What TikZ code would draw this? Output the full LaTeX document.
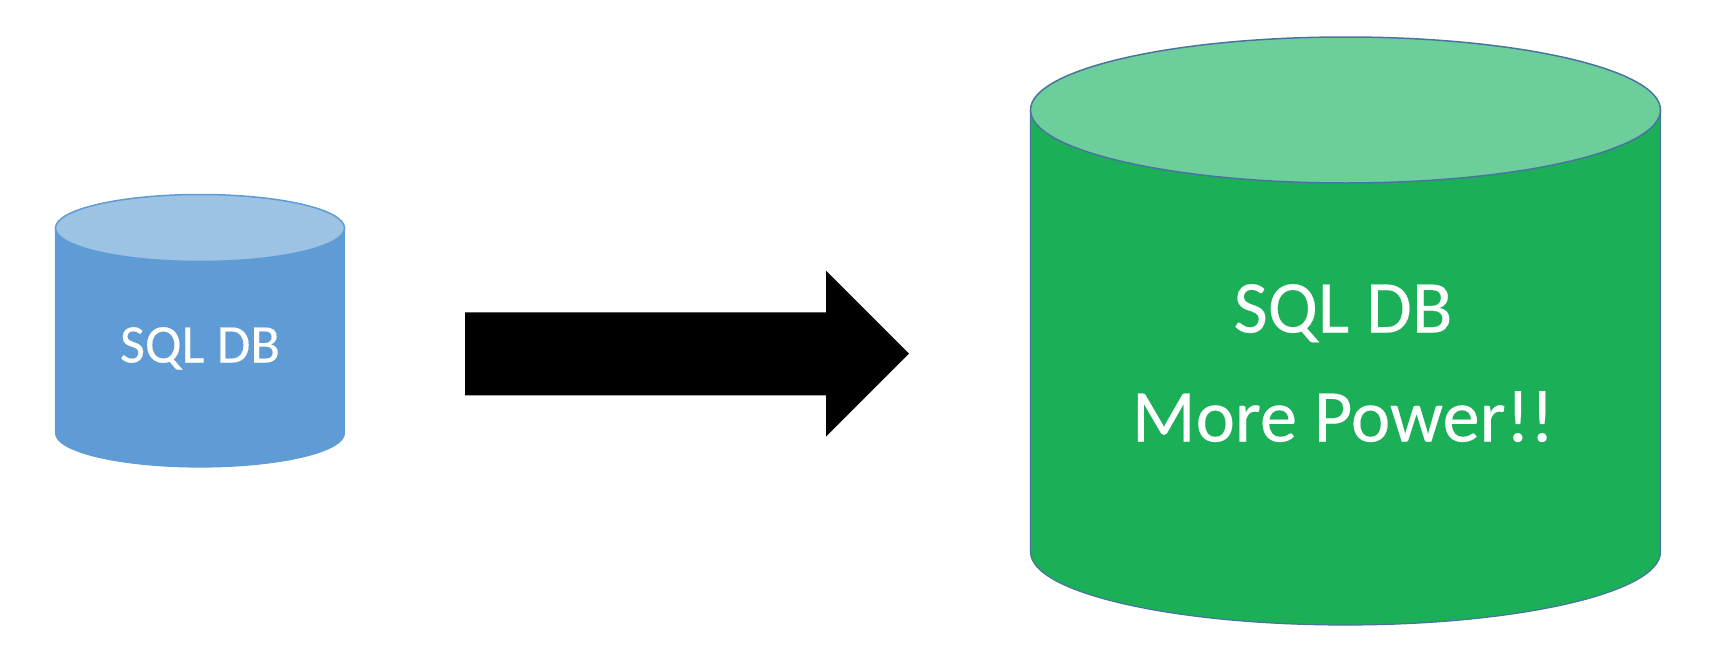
\documentclass[tikz,border=0pt]{standalone}
\usepackage{fontspec}
\setmainfont[FakeBold=0.25]{Carlito}
\definecolor{bluebody}{HTML}{5F9BD4}
\definecolor{bluetop}{HTML}{9DC3E4}
\definecolor{greenbody}{HTML}{1BAF57}
\definecolor{greentop}{HTML}{6CCF9B}
\definecolor{greenedge}{HTML}{4A74A0}
\tikzset{
  x=1pt,y=-1pt,
  dbbody/.style={line width=1.2pt,line join=round},
  dbtop/.style={line width=1.5pt},
  dblabel/.style={text=white,inner sep=0pt,anchor=base},
  smalltext/.style={dblabel,font=\fontsize{54.5}{54.5}\selectfont},
  bigtext/.style={dblabel,font=\fontsize{74.5}{74.5}\selectfont},
  blockarrow/.style={fill=black,draw=none}
}
\begin{document}
\begin{tikzpicture}
\useasboundingbox (0,0) rectangle (1718,656);
% small cylinder
\draw[dbbody,draw=bluebody,fill=bluebody] (55.5,228) -- (55.5,433) arc[start angle=180,end angle=360,x radius=144.5pt,y radius=34pt] -- (344.5,228) -- cycle;
\draw[dbtop,draw=bluebody,fill=bluetop] (200,228) ellipse[x radius=144.5pt,y radius=33.5pt];
\node[smalltext] (smalldb) at (200,362.5) {SQL DB};
% arrow
\fill[blockarrow] (465,312.3) -- (826,312.3) -- (826,270.7) -- (909,353.7) -- (826,436.7) -- (826,395.3) -- (465,395.3) -- cycle;
% big cylinder
\draw[dbbody,draw=greenedge,fill=greenbody] (1030.5,110) -- (1030.5,552) arc[start angle=180,end angle=360,x radius=315pt,y radius=73pt] -- (1660.5,110) -- cycle;
\draw[dbtop,draw=greenedge,fill=greentop] (1345.5,110) ellipse[x radius=315pt,y radius=73pt];
\node[bigtext] (bigdb) at (1343,332.5) {SQL DB};
\node[bigtext] (bigpower) at (1343,441.5) {More Power!!};
\end{tikzpicture}
\end{document}
